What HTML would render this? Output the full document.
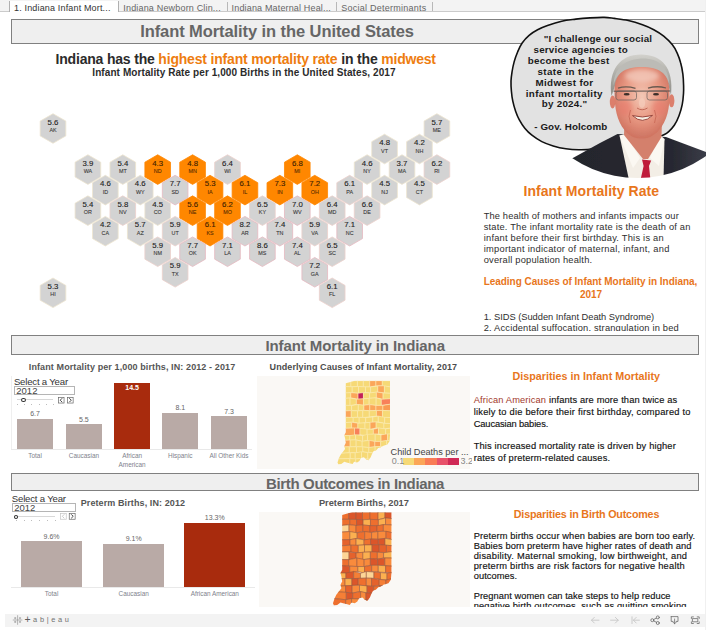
<!DOCTYPE html>
<html lang="en"><head><meta charset="utf-8"><title>Infant Mortality in the United States</title>
<style>
html,body{margin:0;padding:0;background:#fff;}
body{width:706px;height:630px;position:relative;overflow:hidden;font-family:"Liberation Sans",sans-serif;}
.t{position:absolute;white-space:pre;margin:0;}
.a{position:absolute;}
.hd{position:absolute;left:11px;width:688px;box-sizing:border-box;border:1px solid #808080;background:#efefef;}
.clip{position:absolute;overflow:hidden;}
</style></head><body>
<div class="a" style="left:0;top:0;width:705px;height:11px;background:#f3f3f3;border-bottom:1px solid #cbcbcb;"></div>
<div class="a" style="left:8.5px;top:1px;width:110px;height:11px;background:#fff;border-left:1px solid #b0b0b0;border-right:1px solid #b0b0b0;box-sizing:border-box;"></div>
<div class="a" style="left:227.0px;top:2px;width:1px;height:9px;background:#b8b8b8;"></div>
<div class="a" style="left:336.1px;top:2px;width:1px;height:9px;background:#b8b8b8;"></div>
<div class="a" style="left:431.5px;top:2px;width:1px;height:9px;background:#b8b8b8;"></div>
<div class="a" style="left:705px;top:0;width:1px;height:630px;background:#f0f0f0;"></div>
<div class="hd" style="top:19px;height:24.5px;"></div>
<div class="hd" style="top:335px;height:19.5px;"></div>
<div class="hd" style="top:473px;height:18px;"></div>
<svg class="a" style="left:0;top:100px" width="480" height="230" viewBox="0 100 480 230">
<polygon points="53.00,113.70 65.82,121.10 65.82,135.90 53.00,143.30 40.18,135.90 40.18,121.10" fill="#d3d3d3" stroke="#eee4cf" stroke-width="0.8"/>
<polygon points="436.90,113.70 449.72,121.10 449.72,135.90 436.90,143.30 424.08,135.90 424.08,121.10" fill="#d3d3d3" stroke="#eee4cf" stroke-width="0.8"/>
<polygon points="384.55,134.24 397.37,141.64 397.37,156.44 384.55,163.84 371.73,156.44 371.73,141.64" fill="#d3d3d3" stroke="#eee4cf" stroke-width="0.8"/>
<polygon points="419.45,134.24 432.27,141.64 432.27,156.44 419.45,163.84 406.63,156.44 406.63,141.64" fill="#d3d3d3" stroke="#eee4cf" stroke-width="0.8"/>
<polygon points="87.90,154.78 100.72,162.18 100.72,176.98 87.90,184.38 75.08,176.98 75.08,162.18" fill="#d3d3d3" stroke="#eee4cf" stroke-width="0.8"/>
<polygon points="122.80,154.78 135.62,162.18 135.62,176.98 122.80,184.38 109.98,176.98 109.98,162.18" fill="#d3d3d3" stroke="#eee4cf" stroke-width="0.8"/>
<polygon points="157.70,154.78 170.52,162.18 170.52,176.98 157.70,184.38 144.88,176.98 144.88,162.18" fill="#ff8700" stroke="#ff8700" stroke-width="0.8"/>
<polygon points="192.60,154.78 205.42,162.18 205.42,176.98 192.60,184.38 179.78,176.98 179.78,162.18" fill="#ff8700" stroke="#ff8700" stroke-width="0.8"/>
<polygon points="227.50,154.78 240.32,162.18 240.32,176.98 227.50,184.38 214.68,176.98 214.68,162.18" fill="#d3d3d3" stroke="#ecd0cc" stroke-width="0.8"/>
<polygon points="297.30,154.78 310.12,162.18 310.12,176.98 297.30,184.38 284.48,176.98 284.48,162.18" fill="#ff8700" stroke="#ff8700" stroke-width="0.8"/>
<polygon points="367.10,154.78 379.92,162.18 379.92,176.98 367.10,184.38 354.28,176.98 354.28,162.18" fill="#d3d3d3" stroke="#eee4cf" stroke-width="0.8"/>
<polygon points="402.00,154.78 414.82,162.18 414.82,176.98 402.00,184.38 389.18,176.98 389.18,162.18" fill="#d3d3d3" stroke="#eee4cf" stroke-width="0.8"/>
<polygon points="436.90,154.78 449.72,162.18 449.72,176.98 436.90,184.38 424.08,176.98 424.08,162.18" fill="#d3d3d3" stroke="#ecd0cc" stroke-width="0.8"/>
<polygon points="105.35,175.32 118.17,182.72 118.17,197.52 105.35,204.92 92.53,197.52 92.53,182.72" fill="#d3d3d3" stroke="#eee4cf" stroke-width="0.8"/>
<polygon points="140.25,175.32 153.07,182.72 153.07,197.52 140.25,204.92 127.43,197.52 127.43,182.72" fill="#d3d3d3" stroke="#eee4cf" stroke-width="0.8"/>
<polygon points="175.15,175.32 187.97,182.72 187.97,197.52 175.15,204.92 162.33,197.52 162.33,182.72" fill="#d3d3d3" stroke="#e6b9c0" stroke-width="0.8"/>
<polygon points="210.05,175.32 222.87,182.72 222.87,197.52 210.05,204.92 197.23,197.52 197.23,182.72" fill="#ff8700" stroke="#ff8700" stroke-width="0.8"/>
<polygon points="244.95,175.32 257.77,182.72 257.77,197.52 244.95,204.92 232.13,197.52 232.13,182.72" fill="#ff8700" stroke="#ff8700" stroke-width="0.8"/>
<polygon points="279.85,175.32 292.67,182.72 292.67,197.52 279.85,204.92 267.03,197.52 267.03,182.72" fill="#ff8700" stroke="#ff8700" stroke-width="0.8"/>
<polygon points="314.75,175.32 327.57,182.72 327.57,197.52 314.75,204.92 301.93,197.52 301.93,182.72" fill="#ff8700" stroke="#ff8700" stroke-width="0.8"/>
<polygon points="349.65,175.32 362.47,182.72 362.47,197.52 349.65,204.92 336.83,197.52 336.83,182.72" fill="#d3d3d3" stroke="#ecd0cc" stroke-width="0.8"/>
<polygon points="384.55,175.32 397.37,182.72 397.37,197.52 384.55,204.92 371.73,197.52 371.73,182.72" fill="#d3d3d3" stroke="#eee4cf" stroke-width="0.8"/>
<polygon points="419.45,175.32 432.27,182.72 432.27,197.52 419.45,204.92 406.63,197.52 406.63,182.72" fill="#d3d3d3" stroke="#eee4cf" stroke-width="0.8"/>
<polygon points="87.90,195.86 100.72,203.26 100.72,218.06 87.90,225.46 75.08,218.06 75.08,203.26" fill="#d3d3d3" stroke="#eee4cf" stroke-width="0.8"/>
<polygon points="122.80,195.86 135.62,203.26 135.62,218.06 122.80,225.46 109.98,218.06 109.98,203.26" fill="#d3d3d3" stroke="#ecd0cc" stroke-width="0.8"/>
<polygon points="157.70,195.86 170.52,203.26 170.52,218.06 157.70,225.46 144.88,218.06 144.88,203.26" fill="#d3d3d3" stroke="#eee4cf" stroke-width="0.8"/>
<polygon points="192.60,195.86 205.42,203.26 205.42,218.06 192.60,225.46 179.78,218.06 179.78,203.26" fill="#ff8700" stroke="#ff8700" stroke-width="0.8"/>
<polygon points="227.50,195.86 240.32,203.26 240.32,218.06 227.50,225.46 214.68,218.06 214.68,203.26" fill="#ff8700" stroke="#ff8700" stroke-width="0.8"/>
<polygon points="262.40,195.86 275.22,203.26 275.22,218.06 262.40,225.46 249.58,218.06 249.58,203.26" fill="#d3d3d3" stroke="#ecd0cc" stroke-width="0.8"/>
<polygon points="297.30,195.86 310.12,203.26 310.12,218.06 297.30,225.46 284.48,218.06 284.48,203.26" fill="#d3d3d3" stroke="#e6b9c0" stroke-width="0.8"/>
<polygon points="332.20,195.86 345.02,203.26 345.02,218.06 332.20,225.46 319.38,218.06 319.38,203.26" fill="#d3d3d3" stroke="#ecd0cc" stroke-width="0.8"/>
<polygon points="367.10,195.86 379.92,203.26 379.92,218.06 367.10,225.46 354.28,218.06 354.28,203.26" fill="#d3d3d3" stroke="#ecd0cc" stroke-width="0.8"/>
<polygon points="105.35,216.40 118.17,223.80 118.17,238.60 105.35,246.00 92.53,238.60 92.53,223.80" fill="#d3d3d3" stroke="#eee4cf" stroke-width="0.8"/>
<polygon points="140.25,216.40 153.07,223.80 153.07,238.60 140.25,246.00 127.43,238.60 127.43,223.80" fill="#d3d3d3" stroke="#eee4cf" stroke-width="0.8"/>
<polygon points="175.15,216.40 187.97,223.80 187.97,238.60 175.15,246.00 162.33,238.60 162.33,223.80" fill="#d3d3d3" stroke="#ecd0cc" stroke-width="0.8"/>
<polygon points="210.05,216.40 222.87,223.80 222.87,238.60 210.05,246.00 197.23,238.60 197.23,223.80" fill="#ff8700" stroke="#ff8700" stroke-width="0.8"/>
<polygon points="244.95,216.40 257.77,223.80 257.77,238.60 244.95,246.00 232.13,238.60 232.13,223.80" fill="#d3d3d3" stroke="#e6b9c0" stroke-width="0.8"/>
<polygon points="279.85,216.40 292.67,223.80 292.67,238.60 279.85,246.00 267.03,238.60 267.03,223.80" fill="#d3d3d3" stroke="#e6b9c0" stroke-width="0.8"/>
<polygon points="314.75,216.40 327.57,223.80 327.57,238.60 314.75,246.00 301.93,238.60 301.93,223.80" fill="#d3d3d3" stroke="#ecd0cc" stroke-width="0.8"/>
<polygon points="349.65,216.40 362.47,223.80 362.47,238.60 349.65,246.00 336.83,238.60 336.83,223.80" fill="#d3d3d3" stroke="#e6b9c0" stroke-width="0.8"/>
<polygon points="157.70,236.94 170.52,244.34 170.52,259.14 157.70,266.54 144.88,259.14 144.88,244.34" fill="#d3d3d3" stroke="#ecd0cc" stroke-width="0.8"/>
<polygon points="192.60,236.94 205.42,244.34 205.42,259.14 192.60,266.54 179.78,259.14 179.78,244.34" fill="#d3d3d3" stroke="#e6b9c0" stroke-width="0.8"/>
<polygon points="227.50,236.94 240.32,244.34 240.32,259.14 227.50,266.54 214.68,259.14 214.68,244.34" fill="#d3d3d3" stroke="#e6b9c0" stroke-width="0.8"/>
<polygon points="262.40,236.94 275.22,244.34 275.22,259.14 262.40,266.54 249.58,259.14 249.58,244.34" fill="#d3d3d3" stroke="#e6b9c0" stroke-width="0.8"/>
<polygon points="297.30,236.94 310.12,244.34 310.12,259.14 297.30,266.54 284.48,259.14 284.48,244.34" fill="#d3d3d3" stroke="#e6b9c0" stroke-width="0.8"/>
<polygon points="332.20,236.94 345.02,244.34 345.02,259.14 332.20,266.54 319.38,259.14 319.38,244.34" fill="#d3d3d3" stroke="#ecd0cc" stroke-width="0.8"/>
<polygon points="175.15,257.48 187.97,264.88 187.97,279.68 175.15,287.08 162.33,279.68 162.33,264.88" fill="#d3d3d3" stroke="#ecd0cc" stroke-width="0.8"/>
<polygon points="314.75,257.48 327.57,264.88 327.57,279.68 314.75,287.08 301.93,279.68 301.93,264.88" fill="#d3d3d3" stroke="#e6b9c0" stroke-width="0.8"/>
<polygon points="53.00,278.02 65.82,285.42 65.82,300.22 53.00,307.62 40.18,300.22 40.18,285.42" fill="#d3d3d3" stroke="#eee4cf" stroke-width="0.8"/>
<polygon points="332.20,278.02 345.02,285.42 345.02,300.22 332.20,307.62 319.38,300.22 319.38,285.42" fill="#d3d3d3" stroke="#ecd0cc" stroke-width="0.8"/>
</svg>
<div class="a" style="left:470px;top:330.6px;width:234px;height:4.4px;background:#fff;z-index:5;"></div>
<div class="a" style="left:11px;top:449px;width:241px;height:1px;background:#e9e9e9;"></div>
<div class="a" style="left:11px;top:376px;width:1px;height:73px;background:#efefef;"></div>
<div class="a" style="left:17.1px;top:418.8px;width:36px;height:30.0px;background:#b9aaa6;"></div>
<div class="a" style="left:65.9px;top:424.3px;width:36px;height:24.5px;background:#b9aaa6;"></div>
<div class="a" style="left:114.1px;top:383px;width:36px;height:65.8px;background:#a82b0d;"></div>
<div class="a" style="left:162.3px;top:412.6px;width:36px;height:36.2px;background:#b9aaa6;"></div>
<div class="a" style="left:211px;top:416.2px;width:36px;height:32.6px;background:#b9aaa6;"></div>
<div class="a" style="left:14.3px;top:386px;width:60.4px;height:9px;border:1px solid #b5b5b5;box-sizing:border-box;background:#fff;"></div>
<div class="a" style="left:17.1px;top:399.20000000000005px;width:35.8px;height:1px;background:#d8d8d8;"></div>
<div class="a" style="left:21.2px;top:397.70000000000005px;width:4.4px;height:4px;border:0.9px solid #333;border-radius:50%;box-sizing:border-box;background:#fff;"></div>
<div class="a" style="left:17.1px;top:403.50000000000006px;width:0.8px;height:1px;background:#bdbdbd;"></div>
<div class="a" style="left:24.3px;top:403.50000000000006px;width:0.8px;height:1px;background:#bdbdbd;"></div>
<div class="a" style="left:31.4px;top:403.50000000000006px;width:0.8px;height:1px;background:#bdbdbd;"></div>
<div class="a" style="left:38.6px;top:403.50000000000006px;width:0.8px;height:1px;background:#bdbdbd;"></div>
<div class="a" style="left:45.7px;top:403.50000000000006px;width:0.8px;height:1px;background:#bdbdbd;"></div>
<div class="a" style="left:52.9px;top:403.50000000000006px;width:0.8px;height:1px;background:#bdbdbd;"></div>
<svg class="a" style="left:57.2px;top:395.50000000000006px" width="17.499999999999993" height="8.4" viewBox="-1 -1 17.499999999999993 8.4"><rect x="0.35" y="0.35" width="5.7" height="5.7" fill="#fff" stroke="#666" stroke-width="0.7"/><path d="M4.2 1.2000000000000002 L2.2 3.2 L4.2 5.2" fill="none" stroke="#333" stroke-width="0.9"/><g transform="translate(9.099999999999994 0)"><rect x="0.35" y="0.35" width="5.7" height="5.7" fill="#fff" stroke="#666" stroke-width="0.7"/><path d="M2.2 1.2000000000000002 L4.2 3.2 L2.2 5.2" fill="none" stroke="#333" stroke-width="0.9"/></g></svg>
<div class="a" style="left:11px;top:587px;width:244px;height:1px;background:#e9e9e9;"></div>
<div class="a" style="left:21px;top:541.4px;width:61.2px;height:45.7px;background:#b9aaa6;"></div>
<div class="a" style="left:103.1px;top:544px;width:61.2px;height:43.1px;background:#b9aaa6;"></div>
<div class="a" style="left:184.2px;top:523px;width:61.2px;height:64.1px;background:#a82b0d;"></div>
<div class="a" style="left:12.2px;top:503px;width:64.3px;height:9px;border:1px solid #b5b5b5;box-sizing:border-box;background:#fff;"></div>
<div class="a" style="left:15.7px;top:516.1px;width:39.2px;height:1px;background:#d8d8d8;"></div>
<div class="a" style="left:13.5px;top:514.6px;width:4.4px;height:4px;border:0.9px solid #333;border-radius:50%;box-sizing:border-box;background:#fff;"></div>
<div class="a" style="left:15.7px;top:520.4px;width:0.8px;height:1px;background:#bdbdbd;"></div>
<div class="a" style="left:23.5px;top:520.4px;width:0.8px;height:1px;background:#bdbdbd;"></div>
<div class="a" style="left:31.4px;top:520.4px;width:0.8px;height:1px;background:#bdbdbd;"></div>
<div class="a" style="left:39.2px;top:520.4px;width:0.8px;height:1px;background:#bdbdbd;"></div>
<div class="a" style="left:47.1px;top:520.4px;width:0.8px;height:1px;background:#bdbdbd;"></div>
<div class="a" style="left:54.9px;top:520.4px;width:0.8px;height:1px;background:#bdbdbd;"></div>
<svg class="a" style="left:59.4px;top:512.3000000000001px" width="17.5" height="8.6" viewBox="-1 -1 17.5 8.6"><rect x="0.35" y="0.35" width="5.8999999999999995" height="5.8999999999999995" fill="#fff" stroke="#c4c4c4" stroke-width="0.7"/><path d="M4.3 1.2999999999999998 L2.3 3.3 L4.3 5.3" fill="none" stroke="#c4c4c4" stroke-width="0.9"/><g transform="translate(8.899999999999999 0)"><rect x="0.35" y="0.35" width="5.8999999999999995" height="5.8999999999999995" fill="#fff" stroke="#666" stroke-width="0.7"/><path d="M2.3 1.2999999999999998 L4.3 3.3 L2.3 5.3" fill="none" stroke="#333" stroke-width="0.9"/></g></svg>
<div class="a" style="left:470px;top:606.7px;width:234px;height:8px;background:#fff;z-index:5;"></div>
<div class="a" style="left:5px;top:613.8px;width:700px;height:13px;background:#f3f3f3;z-index:6;"></div>
<div class="a" style="left:257.3px;top:376px;width:212.3px;height:92.6px;background:#faf8f5;"></div>
<svg class="a" style="left:330px;top:376px" width="70" height="92" viewBox="330 376 70 92">
<defs><clipPath id="cp1"><polygon points="345.80,383.26 349.57,382.20 354.85,380.70 390.00,380.70 390.00,435.30 389.50,441.30 387.30,444.40 382.80,445.90 380.50,447.40 378.20,448.10 376.00,450.40 373.70,451.10 372.20,453.40 370.70,457.20 368.40,460.20 366.20,459.40 363.90,457.20 360.90,457.90 359.40,460.90 357.10,462.40 354.10,461.70 352.60,464.00 349.60,463.20 346.55,462.40 344.30,461.70 341.30,464.00 338.30,464.30 337.50,462.40 339.00,457.90 340.50,454.90 342.80,451.90 345.05,448.90 344.30,445.90 345.80,442.80 345.05,438.30 344.30,435.30 345.80,432.30"/></clipPath></defs>
<g clip-path="url(#cp1)" stroke="#fbedb4" stroke-width="0.55" stroke-linejoin="round">
<polygon points="335.80,380.70 350.94,380.70 350.94,386.78 335.80,386.23" fill="#f6d976"/>
<polygon points="350.94,380.70 357.45,380.70 357.45,386.47 350.94,386.78" fill="#f6d976"/>
<polygon points="357.45,380.70 363.32,380.70 363.32,386.89 357.45,386.47" fill="#f6d976"/>
<polygon points="363.32,380.70 369.69,380.70 369.69,386.93 363.32,386.89" fill="#f6d976"/>
<polygon points="369.69,380.70 375.91,380.70 375.91,385.92 369.69,386.93" fill="#fba65a"/>
<polygon points="375.91,380.70 382.30,380.70 382.30,385.82 375.91,385.92" fill="#fba65a"/>
<polygon points="382.30,380.70 391.80,380.70 391.80,387.31 382.30,385.82" fill="#f6d976"/>
<polygon points="335.80,386.23 352.20,386.78 352.20,392.65 335.80,393.59" fill="#f6d976"/>
<polygon points="352.20,386.78 358.62,386.47 358.62,393.31 352.20,392.65" fill="#f6d976"/>
<polygon points="358.62,386.47 365.56,386.89 365.56,392.66 358.62,393.31" fill="#f6d976"/>
<polygon points="365.56,386.89 370.66,386.93 370.66,392.95 365.56,392.66" fill="#f6d976"/>
<polygon points="370.66,386.93 377.83,385.92 377.83,392.07 370.66,392.95" fill="#f6d976"/>
<polygon points="377.83,385.92 384.40,385.82 384.40,392.94 377.83,392.07" fill="#fba65a"/>
<polygon points="384.40,385.82 391.80,387.31 391.80,393.36 384.40,392.94" fill="#f6d976"/>
<polygon points="335.80,393.59 350.82,392.65 350.82,397.92 335.80,399.01" fill="#f6d976"/>
<polygon points="350.82,392.65 358.05,393.31 358.05,399.16 350.82,397.92" fill="#fba65a"/>
<polygon points="358.05,393.31 363.45,392.66 363.45,398.86 358.05,399.16" fill="#c41f58"/>
<polygon points="363.45,392.66 369.66,392.95 369.66,398.34 363.45,398.86" fill="#f6d976"/>
<polygon points="369.66,392.95 376.36,392.07 376.36,397.86 369.66,398.34" fill="#f6d976"/>
<polygon points="376.36,392.07 383.08,392.94 383.08,399.36 376.36,397.86" fill="#fba65a"/>
<polygon points="383.08,392.94 391.80,393.36 391.80,398.65 383.08,399.36" fill="#f6d976"/>
<polygon points="335.80,399.01 350.06,397.92 350.06,405.46 335.80,405.09" fill="#f6d976"/>
<polygon points="350.06,397.92 356.38,399.16 356.38,404.51 350.06,405.46" fill="#f6d976"/>
<polygon points="356.38,399.16 363.48,398.86 363.48,405.24 356.38,404.51" fill="#fba65a"/>
<polygon points="363.48,398.86 369.15,398.34 369.15,404.60 363.48,405.24" fill="#f6d976"/>
<polygon points="369.15,398.34 376.12,397.86 376.12,405.48 369.15,404.60" fill="#f6d976"/>
<polygon points="376.12,397.86 381.32,399.36 381.32,405.38 376.12,405.48" fill="#f6d976"/>
<polygon points="381.32,399.36 391.80,398.65 391.80,403.98 381.32,405.38" fill="#f8805a"/>
<polygon points="335.80,405.09 351.62,405.46 351.62,410.59 335.80,411.54" fill="#f6d976"/>
<polygon points="351.62,405.46 358.30,404.51 358.30,410.93 351.62,410.59" fill="#f6d976"/>
<polygon points="358.30,404.51 363.90,405.24 363.90,410.34 358.30,410.93" fill="#f6d976"/>
<polygon points="363.90,405.24 369.84,404.60 369.84,410.71 363.90,410.34" fill="#fba65a"/>
<polygon points="369.84,404.60 375.97,405.48 375.97,410.49 369.84,410.71" fill="#fba65a"/>
<polygon points="375.97,405.48 382.93,405.38 382.93,410.43 375.97,410.49" fill="#fba65a"/>
<polygon points="382.93,405.38 391.80,403.98 391.80,410.85 382.93,410.43" fill="#f99a52"/>
<polygon points="335.80,411.54 351.23,410.59 351.23,417.47 335.80,417.03" fill="#fba65a"/>
<polygon points="351.23,410.59 357.58,410.93 357.58,417.34 351.23,417.47" fill="#f6d976"/>
<polygon points="357.58,410.93 362.83,410.34 362.83,417.58 357.58,417.34" fill="#f6d976"/>
<polygon points="362.83,410.34 369.29,410.71 369.29,417.01 362.83,417.58" fill="#f6d976"/>
<polygon points="369.29,410.71 376.43,410.49 376.43,416.09 369.29,417.01" fill="#f6d976"/>
<polygon points="376.43,410.49 382.47,410.43 382.47,417.35 376.43,416.09" fill="#fba65a"/>
<polygon points="382.47,410.43 391.80,410.85 391.80,417.54 382.47,417.35" fill="#f6d976"/>
<polygon points="335.80,417.03 353.20,417.47 353.20,422.18 335.80,423.08" fill="#f6d976"/>
<polygon points="353.20,417.47 359.16,417.34 359.16,423.30 353.20,422.18" fill="#f6d976"/>
<polygon points="359.16,417.34 365.71,417.58 365.71,422.83 359.16,423.30" fill="#f6d976"/>
<polygon points="365.71,417.58 372.82,417.01 372.82,422.31 365.71,422.83" fill="#f6d976"/>
<polygon points="372.82,417.01 378.28,416.09 378.28,421.91 372.82,422.31" fill="#f6d976"/>
<polygon points="378.28,416.09 384.70,417.35 384.70,423.34 378.28,421.91" fill="#f6d976"/>
<polygon points="384.70,417.35 391.80,417.54 391.80,423.58 384.70,423.34" fill="#f6d976"/>
<polygon points="335.80,423.08 351.61,422.18 351.61,428.07 335.80,428.54" fill="#f6d976"/>
<polygon points="351.61,422.18 357.89,423.30 357.89,428.33 351.61,428.07" fill="#fba65a"/>
<polygon points="357.89,423.30 365.01,422.83 365.01,429.18 357.89,428.33" fill="#f6d976"/>
<polygon points="365.01,422.83 370.08,422.31 370.08,429.37 365.01,429.18" fill="#f6d976"/>
<polygon points="370.08,422.31 376.14,421.91 376.14,427.88 370.08,429.37" fill="#fba65a"/>
<polygon points="376.14,421.91 383.94,423.34 383.94,428.91 376.14,427.88" fill="#f6d976"/>
<polygon points="383.94,423.34 391.80,423.58 391.80,427.88 383.94,428.91" fill="#f6d976"/>
<polygon points="335.80,428.54 354.55,428.07 354.55,435.57 335.80,435.39" fill="#fba65a"/>
<polygon points="354.55,428.07 359.97,428.33 359.97,434.71 354.55,435.57" fill="#f8805a"/>
<polygon points="359.97,428.33 367.09,429.18 367.09,435.60 359.97,434.71" fill="#f6d976"/>
<polygon points="367.09,429.18 373.36,429.37 373.36,434.36 367.09,435.60" fill="#f6d976"/>
<polygon points="373.36,429.37 378.53,427.88 378.53,433.94 373.36,434.36" fill="#fba65a"/>
<polygon points="378.53,427.88 385.66,428.91 385.66,434.88 378.53,433.94" fill="#f6d976"/>
<polygon points="385.66,428.91 391.80,427.88 391.80,433.86 385.66,434.88" fill="#f6d976"/>
<polygon points="335.80,435.39 349.88,435.57 349.88,440.08 335.80,440.90" fill="#f6d976"/>
<polygon points="349.88,435.57 355.60,434.71 355.60,439.88 349.88,440.08" fill="#f6d976"/>
<polygon points="355.60,434.71 362.64,435.60 362.64,441.36 355.60,439.88" fill="#f6d976"/>
<polygon points="362.64,435.60 367.61,434.36 367.61,440.36 362.64,441.36" fill="#f6d976"/>
<polygon points="367.61,434.36 375.19,433.94 375.19,441.53 367.61,440.36" fill="#f6d976"/>
<polygon points="375.19,433.94 381.05,434.88 381.05,441.41 375.19,441.53" fill="#f6d976"/>
<polygon points="381.05,434.88 387.62,433.86 387.62,440.48 381.05,441.41" fill="#fba65a"/>
<polygon points="387.62,433.86 391.80,434.16 391.80,440.63 387.62,440.48" fill="#f6d976"/>
<polygon points="335.80,440.90 350.13,440.08 350.13,446.87 335.80,446.96" fill="#fba65a"/>
<polygon points="350.13,440.08 356.11,439.88 356.11,446.81 350.13,446.87" fill="#f6d976"/>
<polygon points="356.11,439.88 362.13,441.36 362.13,446.92 356.11,446.81" fill="#f6d976"/>
<polygon points="362.13,441.36 369.17,440.36 369.17,447.49 362.13,446.92" fill="#f6d976"/>
<polygon points="369.17,440.36 374.85,441.53 374.85,446.71 369.17,447.49" fill="#fba65a"/>
<polygon points="374.85,441.53 380.62,441.41 380.62,446.58 374.85,446.71" fill="#fba65a"/>
<polygon points="380.62,441.41 386.68,440.48 386.68,447.10 380.62,446.58" fill="#f6d976"/>
<polygon points="386.68,440.48 391.80,440.63 391.80,446.23 386.68,447.10" fill="#f6d976"/>
<polygon points="335.80,446.96 349.27,446.87 349.27,452.74 335.80,453.56" fill="#f6d976"/>
<polygon points="349.27,446.87 356.46,446.81 356.46,452.79 349.27,452.74" fill="#f6d976"/>
<polygon points="356.46,446.81 362.87,446.92 362.87,451.82 356.46,452.79" fill="#f6d976"/>
<polygon points="362.87,446.92 368.89,447.49 368.89,452.55 362.87,451.82" fill="#f6d976"/>
<polygon points="368.89,447.49 375.11,446.71 375.11,452.84 368.89,452.55" fill="#f6d976"/>
<polygon points="375.11,446.71 380.01,446.58 380.01,451.84 375.11,452.84" fill="#f6d976"/>
<polygon points="380.01,446.58 387.20,447.10 387.20,452.91 380.01,451.84" fill="#f6d976"/>
<polygon points="387.20,447.10 391.80,446.23 391.80,452.94 387.20,452.91" fill="#f6d976"/>
<polygon points="335.80,453.56 350.24,452.74 350.24,458.64 335.80,458.93" fill="#f6d976"/>
<polygon points="350.24,452.74 355.20,452.79 355.20,459.02 350.24,458.64" fill="#f6d976"/>
<polygon points="355.20,452.79 361.49,451.82 361.49,458.43 355.20,459.02" fill="#f6d976"/>
<polygon points="361.49,451.82 367.80,452.55 367.80,459.07 361.49,458.43" fill="#f6d976"/>
<polygon points="367.80,452.55 374.00,452.84 374.00,459.13 367.80,459.07" fill="#f6d976"/>
<polygon points="374.00,452.84 380.11,451.84 380.11,457.84 374.00,459.13" fill="#f6d976"/>
<polygon points="380.11,451.84 387.76,452.91 387.76,457.91 380.11,457.84" fill="#f6d976"/>
<polygon points="387.76,452.91 391.80,452.94 391.80,459.02 387.76,457.91" fill="#f6d976"/>
<polygon points="335.80,458.93 349.92,458.64 349.92,464.70 335.80,464.70" fill="#f6d976"/>
<polygon points="349.92,458.64 355.76,459.02 355.76,464.70 349.92,464.70" fill="#f6d976"/>
<polygon points="355.76,459.02 361.69,458.43 361.69,464.70 355.76,464.70" fill="#f6d976"/>
<polygon points="361.69,458.43 368.11,459.07 368.11,464.70 361.69,464.70" fill="#f6d976"/>
<polygon points="368.11,459.07 373.98,459.13 373.98,464.70 368.11,464.70" fill="#f6d976"/>
<polygon points="373.98,459.13 380.87,457.84 380.87,464.70 373.98,464.70" fill="#f6d976"/>
<polygon points="380.87,457.84 387.33,457.91 387.33,464.70 380.87,464.70" fill="#f6d976"/>
<polygon points="387.33,457.91 391.80,459.02 391.80,464.70 387.33,464.70" fill="#f6d976"/>
</g></svg>
<div class="a" style="left:403.10px;top:457.8px;width:11.3px;height:7.2px;background:#f6d976;"></div>
<div class="a" style="left:414.28px;top:457.8px;width:11.3px;height:7.2px;background:#fba657;"></div>
<div class="a" style="left:425.46px;top:457.8px;width:11.3px;height:7.2px;background:#f97c56;"></div>
<div class="a" style="left:436.64px;top:457.8px;width:11.3px;height:7.2px;background:#e8526a;"></div>
<div class="a" style="left:447.82px;top:457.8px;width:11.3px;height:7.2px;background:#d02a56;"></div>
<div class="a" style="left:259px;top:511.8px;width:210.8px;height:94.8px;background:#faf8f5;"></div>
<svg class="a" style="left:326px;top:511.8px" width="70" height="94.8" viewBox="326 511.8 70 94.8">
<defs><clipPath id="cp2"><polygon points="342.20,514.85 346.40,513.67 352.28,512.00 391.42,512.00 391.42,572.80 390.86,579.48 388.41,582.94 383.40,584.61 380.84,586.28 378.28,587.06 375.83,589.62 373.27,590.40 371.60,592.96 369.93,597.19 367.37,600.53 364.92,599.64 362.36,597.19 359.02,597.97 357.34,601.31 354.78,602.98 351.44,602.20 349.77,604.76 346.43,603.87 343.04,602.98 340.53,602.20 337.19,604.76 333.85,605.10 332.96,602.98 334.63,597.97 336.30,594.63 338.86,591.29 341.36,587.95 340.53,584.61 342.20,581.15 341.36,576.14 340.53,572.80 342.20,569.46"/></clipPath></defs>
<g clip-path="url(#cp2)" stroke="#9c5a40" stroke-width="0.6" stroke-linejoin="round">
<polygon points="331.06,512.00 348.74,512.00 348.74,519.17 331.06,518.93" fill="#ee6f2e"/>
<polygon points="348.74,512.00 355.96,512.00 355.96,519.27 348.74,519.17" fill="#db562a"/>
<polygon points="355.96,512.00 362.51,512.00 362.51,519.57 355.96,519.27" fill="#db562a"/>
<polygon points="362.51,512.00 369.94,512.00 369.94,519.16 362.51,519.57" fill="#ee6f2e"/>
<polygon points="369.94,512.00 378.05,512.00 378.05,519.53 369.94,519.16" fill="#ee6f2e"/>
<polygon points="378.05,512.00 385.01,512.00 385.01,517.74 378.05,519.53" fill="#fbb050"/>
<polygon points="385.01,512.00 393.43,512.00 393.43,518.61 385.01,517.74" fill="#db562a"/>
<polygon points="331.06,518.93 349.84,519.17 349.84,524.59 331.06,526.17" fill="#ee6f2e"/>
<polygon points="349.84,519.17 356.57,519.27 356.57,525.30 349.84,524.59" fill="#ee6f2e"/>
<polygon points="356.57,519.27 363.14,519.57 363.14,524.86 356.57,525.30" fill="#db562a"/>
<polygon points="363.14,519.57 370.48,519.16 370.48,525.45 363.14,524.86" fill="#fbb050"/>
<polygon points="370.48,519.16 378.40,519.53 378.40,525.51 370.48,525.45" fill="#ee6f2e"/>
<polygon points="378.40,519.53 385.57,517.74 385.57,524.39 378.40,525.51" fill="#fbb050"/>
<polygon points="385.57,517.74 393.43,518.61 393.43,524.80 385.57,524.39" fill="#f98b3c"/>
<polygon points="331.06,526.17 349.05,524.59 349.05,531.36 331.06,532.58" fill="#fdd596"/>
<polygon points="349.05,524.59 356.04,525.30 356.04,532.64 349.05,531.36" fill="#f98b3c"/>
<polygon points="356.04,525.30 362.91,524.86 362.91,531.32 356.04,532.64" fill="#ee6f2e"/>
<polygon points="362.91,524.86 369.88,525.45 369.88,532.28 362.91,531.32" fill="#ee6f2e"/>
<polygon points="369.88,525.45 377.06,525.51 377.06,531.30 369.88,532.28" fill="#e5622c"/>
<polygon points="377.06,525.51 383.37,524.39 383.37,531.05 377.06,531.30" fill="#ee6f2e"/>
<polygon points="383.37,524.39 393.43,524.80 393.43,532.79 383.37,531.05" fill="#f98b3c"/>
<polygon points="331.06,532.58 349.83,531.36 349.83,539.47 331.06,539.69" fill="#f98b3c"/>
<polygon points="349.83,531.36 357.21,532.64 357.21,538.30 349.83,539.47" fill="#fbb050"/>
<polygon points="357.21,532.64 364.73,531.32 364.73,539.65 357.21,538.30" fill="#ee6f2e"/>
<polygon points="364.73,531.32 371.60,532.28 371.60,538.81 364.73,539.65" fill="#f57f36"/>
<polygon points="371.60,532.28 377.91,531.30 377.91,539.08 371.60,538.81" fill="#f98b3c"/>
<polygon points="377.91,531.30 386.09,531.05 386.09,538.13 377.91,539.08" fill="#f98b3c"/>
<polygon points="386.09,531.05 393.43,532.79 393.43,539.61 386.09,538.13" fill="#ee6f2e"/>
<polygon points="331.06,539.69 350.09,539.47 350.09,545.00 331.06,546.20" fill="#e5622c"/>
<polygon points="350.09,539.47 356.09,538.30 356.09,545.13 350.09,545.00" fill="#f98b3c"/>
<polygon points="356.09,538.30 364.06,539.65 364.06,544.74 356.09,545.13" fill="#fbb050"/>
<polygon points="364.06,539.65 370.55,538.81 370.55,544.70 364.06,544.74" fill="#ee6f2e"/>
<polygon points="370.55,538.81 378.32,539.08 378.32,544.54 370.55,544.70" fill="#db562a"/>
<polygon points="378.32,539.08 384.96,538.13 384.96,545.01 378.32,544.54" fill="#db562a"/>
<polygon points="384.96,538.13 393.43,539.61 393.43,545.61 384.96,545.01" fill="#fbb050"/>
<polygon points="331.06,546.20 351.03,545.00 351.03,551.71 331.06,551.76" fill="#f57f36"/>
<polygon points="351.03,545.00 358.31,545.13 358.31,552.73 351.03,551.71" fill="#ee6f2e"/>
<polygon points="358.31,545.13 364.53,544.74 364.53,552.05 358.31,552.73" fill="#fbb050"/>
<polygon points="364.53,544.74 372.07,544.70 372.07,551.72 364.53,552.05" fill="#fbb050"/>
<polygon points="372.07,544.70 379.25,544.54 379.25,552.05 372.07,551.72" fill="#db562a"/>
<polygon points="379.25,544.54 386.43,545.01 386.43,552.50 379.25,552.05" fill="#e5622c"/>
<polygon points="386.43,545.01 393.43,545.61 393.43,551.20 386.43,552.50" fill="#ee6f2e"/>
<polygon points="331.06,551.76 349.09,551.71 349.09,559.46 331.06,559.27" fill="#fdd596"/>
<polygon points="349.09,551.71 356.16,552.73 356.16,557.81 349.09,559.46" fill="#e5622c"/>
<polygon points="356.16,552.73 362.85,552.05 362.85,559.35 356.16,557.81" fill="#f98b3c"/>
<polygon points="362.85,552.05 370.38,551.72 370.38,558.50 362.85,559.35" fill="#fbb050"/>
<polygon points="370.38,551.72 377.36,552.05 377.36,558.93 370.38,558.50" fill="#ee6f2e"/>
<polygon points="377.36,552.05 383.59,552.50 383.59,557.79 377.36,558.93" fill="#f98b3c"/>
<polygon points="383.59,552.50 393.43,551.20 393.43,557.86 383.59,557.79" fill="#fbb050"/>
<polygon points="331.06,559.27 348.76,559.46 348.76,565.97 331.06,564.84" fill="#ee6f2e"/>
<polygon points="348.76,559.46 356.97,557.81 356.97,566.31 348.76,565.97" fill="#f98b3c"/>
<polygon points="356.97,557.81 364.17,559.35 364.17,566.34 356.97,566.31" fill="#f98b3c"/>
<polygon points="364.17,559.35 370.37,558.50 370.37,565.14 364.17,566.34" fill="#f98b3c"/>
<polygon points="370.37,558.50 377.76,558.93 377.76,565.16 370.37,565.14" fill="#db562a"/>
<polygon points="377.76,558.93 384.83,557.79 384.83,565.50 377.76,565.16" fill="#db562a"/>
<polygon points="384.83,557.79 393.43,557.86 393.43,566.01 384.83,565.50" fill="#f98b3c"/>
<polygon points="331.06,564.84 349.76,565.97 349.76,572.86 331.06,572.73" fill="#db562a"/>
<polygon points="349.76,565.97 357.86,566.31 357.86,571.21 349.76,572.86" fill="#f98b3c"/>
<polygon points="357.86,566.31 364.52,566.34 364.52,573.03 357.86,571.21" fill="#fbb050"/>
<polygon points="364.52,566.34 371.69,565.14 371.69,571.31 364.52,573.03" fill="#ee6f2e"/>
<polygon points="371.69,565.14 378.27,565.16 378.27,571.82 371.69,571.31" fill="#f98b3c"/>
<polygon points="378.27,565.16 385.64,565.50 385.64,572.36 378.27,571.82" fill="#fbb050"/>
<polygon points="385.64,565.50 393.43,566.01 393.43,572.97 385.64,572.36" fill="#ee6f2e"/>
<polygon points="331.06,572.73 345.94,572.86 345.94,578.44 331.06,578.91" fill="#fbb050"/>
<polygon points="345.94,572.86 353.67,571.21 353.67,578.45 345.94,578.44" fill="#db562a"/>
<polygon points="353.67,571.21 360.48,573.03 360.48,578.17 353.67,578.45" fill="#f57f36"/>
<polygon points="360.48,573.03 366.33,571.31 366.33,577.97 360.48,578.17" fill="#fdd596"/>
<polygon points="366.33,571.31 374.00,571.82 374.00,578.11 366.33,577.97" fill="#fdd596"/>
<polygon points="374.00,571.82 380.47,572.36 380.47,579.20 374.00,578.11" fill="#ee6f2e"/>
<polygon points="380.47,572.36 387.07,572.97 387.07,579.81 380.47,579.20" fill="#fbb050"/>
<polygon points="387.07,572.97 393.43,571.81 393.43,578.14 387.07,579.81" fill="#ee6f2e"/>
<polygon points="331.06,578.91 345.06,578.44 345.06,585.56 331.06,586.47" fill="#f98b3c"/>
<polygon points="345.06,578.44 351.93,578.45 351.93,585.31 345.06,585.56" fill="#fbb050"/>
<polygon points="351.93,578.45 358.21,578.17 358.21,584.97 351.93,585.31" fill="#db562a"/>
<polygon points="358.21,578.17 366.30,577.97 366.30,585.69 358.21,584.97" fill="#ee6f2e"/>
<polygon points="366.30,577.97 371.59,578.11 371.59,586.15 366.30,585.69" fill="#f98b3c"/>
<polygon points="371.59,578.11 379.22,579.20 379.22,585.41 371.59,586.15" fill="#e5622c"/>
<polygon points="379.22,579.20 385.90,579.81 385.90,585.34 379.22,585.41" fill="#f57f36"/>
<polygon points="385.90,579.81 393.43,578.14 393.43,584.61 385.90,585.34" fill="#ee6f2e"/>
<polygon points="331.06,586.47 345.62,585.56 345.62,592.17 331.06,591.24" fill="#f98b3c"/>
<polygon points="345.62,585.56 352.16,585.31 352.16,592.86 345.62,592.17" fill="#e5622c"/>
<polygon points="352.16,585.31 359.50,584.97 359.50,591.44 352.16,592.86" fill="#f98b3c"/>
<polygon points="359.50,584.97 367.07,585.69 367.07,592.64 359.50,591.44" fill="#fbb050"/>
<polygon points="367.07,585.69 373.73,586.15 373.73,593.08 367.07,592.64" fill="#db562a"/>
<polygon points="373.73,586.15 379.92,585.41 379.92,592.44 373.73,593.08" fill="#ee6f2e"/>
<polygon points="379.92,585.41 387.53,585.34 387.53,592.76 379.92,592.44" fill="#e5622c"/>
<polygon points="387.53,585.34 393.43,584.61 393.43,591.39 387.53,592.76" fill="#f57f36"/>
<polygon points="331.06,591.24 346.31,592.17 346.31,599.55 331.06,598.16" fill="#f57f36"/>
<polygon points="346.31,592.17 352.75,592.86 352.75,598.45 346.31,599.55" fill="#db562a"/>
<polygon points="352.75,592.86 360.62,591.44 360.62,598.77 352.75,598.45" fill="#ee6f2e"/>
<polygon points="360.62,591.44 365.94,592.64 365.94,599.86 360.62,598.77" fill="#f98b3c"/>
<polygon points="365.94,592.64 373.03,593.08 373.03,599.57 365.94,599.86" fill="#db562a"/>
<polygon points="373.03,593.08 380.75,592.44 380.75,599.81 373.03,599.57" fill="#f57f36"/>
<polygon points="380.75,592.44 387.74,592.76 387.74,598.77 380.75,599.81" fill="#f57f36"/>
<polygon points="387.74,592.76 393.43,591.39 393.43,598.84 387.74,598.77" fill="#f98b3c"/>
<polygon points="331.06,598.16 345.73,599.55 345.73,605.54 331.06,605.54" fill="#ee6f2e"/>
<polygon points="345.73,599.55 351.57,598.45 351.57,605.54 345.73,605.54" fill="#f57f36"/>
<polygon points="351.57,598.45 359.51,598.77 359.51,605.54 351.57,605.54" fill="#f98b3c"/>
<polygon points="359.51,598.77 366.33,599.86 366.33,605.54 359.51,605.54" fill="#f98b3c"/>
<polygon points="366.33,599.86 372.67,599.57 372.67,605.54 366.33,605.54" fill="#ee6f2e"/>
<polygon points="372.67,599.57 378.98,599.81 378.98,605.54 372.67,605.54" fill="#f98b3c"/>
<polygon points="378.98,599.81 387.17,598.77 387.17,605.54 378.98,605.54" fill="#f57f36"/>
<polygon points="387.17,598.77 393.43,598.84 393.43,605.54 387.17,605.54" fill="#f98b3c"/>
</g></svg>
<svg class="a" style="left:500px;top:10px;z-index:4" width="206" height="172" viewBox="500 10 206 172">
<defs><clipPath id="pc"><circle cx="637.5" cy="60" r="118"/></clipPath><filter id="bl" x="-5%" y="-5%" width="110%" height="110%"><feGaussianBlur stdDeviation="0.55"/></filter><filter id="bl2" x="-30%" y="-30%" width="160%" height="160%"><feGaussianBlur stdDeviation="2.2"/></filter><radialGradient id="skin" cx="0.5" cy="0.42" r="0.62"><stop offset="0" stop-color="#f3c8b6"/><stop offset="0.5" stop-color="#e99a84"/><stop offset="1" stop-color="#cc6c5a"/></radialGradient><linearGradient id="hair" x1="0" y1="0" x2="0" y2="1"><stop offset="0" stop-color="#d2d1cc"/><stop offset="0.45" stop-color="#b0afa9"/><stop offset="1" stop-color="#8d8b85"/></linearGradient><linearGradient id="suit" x1="0" y1="0" x2="1" y2="0"><stop offset="0" stop-color="#24252c"/><stop offset="0.75" stop-color="#272830"/><stop offset="1" stop-color="#3a3c48"/></linearGradient></defs>
<path d="M590.0 17.9 C594.7 17.6 600.2 17.3 604.2 17.4 C608.2 17.5 610.2 17.9 614.2 18.4 C618.2 18.9 623.6 19.4 628.3 20.5 C633.0 21.6 638.2 23.2 642.5 24.7 C646.8 26.2 650.3 27.8 653.8 29.7 C657.3 31.6 660.6 33.6 663.7 36.1 C666.8 38.6 670.0 41.8 672.2 44.6 C674.5 47.4 675.8 50.0 677.2 53.1 C678.6 56.2 679.8 59.5 680.7 63.0 C681.7 66.5 682.4 70.5 682.9 74.3 C683.4 78.1 683.5 82.5 683.6 85.7 C683.7 88.9 683.7 90.3 683.5 93.5 C683.3 96.7 683.0 100.9 682.2 104.6 C681.5 108.3 680.3 112.2 679.0 115.7 C677.7 119.2 676.0 122.7 674.3 125.3 C672.6 127.9 670.4 130.0 668.7 131.6 C667.0 133.2 666.2 133.7 663.9 134.8 C661.6 135.9 659.0 136.9 655.0 138.0 C651.0 139.1 645.8 140.4 640.0 141.5 C634.2 142.6 626.0 143.7 620.0 144.6 C614.0 145.5 608.7 146.1 604.2 146.8 C599.7 147.6 597.0 148.6 592.8 149.1 C588.5 149.6 583.2 149.8 578.7 149.7 C574.2 149.6 570.1 149.3 565.9 148.7 C561.6 148.1 557.2 147.1 553.2 145.9 C549.2 144.7 545.3 143.4 541.8 141.6 C538.2 139.8 534.7 137.4 531.9 135.2 C529.1 133.0 526.9 130.8 524.8 128.2 C522.7 125.6 520.7 122.5 519.2 119.7 C517.7 116.9 516.7 114.3 515.6 111.2 C514.5 108.1 513.5 104.5 512.8 101.2 C512.1 97.9 511.7 94.7 511.4 91.3 C511.1 87.9 510.9 84.3 511.0 81.0 C511.1 77.7 511.6 74.7 512.1 71.5 C512.6 68.3 513.3 64.9 514.2 61.6 C515.1 58.3 516.4 54.8 517.7 51.7 C519.0 48.6 520.1 45.9 522.0 43.2 C523.9 40.5 526.5 37.6 529.1 35.4 C531.7 33.1 534.5 31.3 537.6 29.7 C540.7 28.1 543.5 26.9 547.5 25.5 C551.5 24.1 557.0 22.3 561.7 21.2 C566.4 20.1 571.1 19.7 575.8 19.1 C580.5 18.6 585.3 18.2 590.0 17.9Z" fill="#e2e2e2" stroke="#111" stroke-width="1.6"/>
<g clip-path="url(#pc)"><g filter="url(#bl)">
<path d="M617.5 134 L600 143 L572 158.5 L572 182 L706 182 L706 152 L690 146 L666 137 Z" fill="url(#suit)"/>
<path d="M619.5 135.5 L664.5 139 L663.5 180 L629 180 Z" fill="#f3eee6"/>
<path d="M619.5 135.5 L625 134 L640 158 L633 168 Z" fill="#fbf8f2"/><path d="M664.5 139 L660 135 L650 158 L659 166 Z" fill="#fbf8f2"/>
<path d="M642 159.5 L651.2 160.5 L649 166 L650.5 180 L640.5 180 L643.6 166 Z" fill="#bf1f3a"/>
<path d="M624.5 120 L662 120 L661.5 137 L648 159 L643 159 L624 135 Z" fill="#d4806c"/>
<ellipse cx="612.6" cy="102" rx="2.8" ry="6.5" fill="#dc7f6c"/><ellipse cx="671.6" cy="100.8" rx="2.8" ry="6.5" fill="#dc7f6c"/>
<path d="M611.5 96 C608 70 620 54.5 641 54.5 C662 54.5 674 68 671 95 L667 80 L617 80 Z" fill="url(#hair)"/>
<path d="M614.5 92 C614 74 624 65.5 641.5 65.5 C659 65.5 669.5 73 669.5 92 C670 108 667 121 659 130 C653 137 647 138.5 642 138.5 C636 138.5 630 137 624.5 130 C617 121 614.5 108 614.5 92 Z" fill="url(#skin)"/>
<g filter="url(#bl2)"><ellipse cx="625" cy="108" rx="7" ry="8" fill="#e8796a" opacity="0.55"/><ellipse cx="659.5" cy="108" rx="7" ry="8" fill="#e8796a" opacity="0.55"/><ellipse cx="642" cy="76" rx="17" ry="6.5" fill="#f3cfc2" opacity="0.7"/><path d="M622 124 Q642 146 662 124 Q655 133 642 134 Q629 133 622 124 Z" fill="#b98478" opacity="0.55"/></g>
<path d="M613.5 86 C614 70 622 60 641 58.5 C660 58 668.5 68 669.5 85 C667 74 660 67 641.5 67 C624 67 616 74 613.5 86 Z" fill="#bcbbb6"/>
<path d="M618 88.2 Q626 85.6 635.5 88.4" stroke="#6a5a50" stroke-width="1.3" fill="none"/><path d="M648 88.2 Q657 85.4 666 88" stroke="#6a5a50" stroke-width="1.3" fill="none"/>
<path d="M613.5 91.2 L670 91" stroke="#4a4644" stroke-width="0.9" fill="none"/><rect x="616" y="91" width="20.5" height="9" rx="2.5" fill="none" stroke="#6a605c" stroke-width="0.7"/><rect x="647" y="91" width="20.5" height="9" rx="2.5" fill="none" stroke="#6a605c" stroke-width="0.7"/>
<ellipse cx="626.7" cy="94.2" rx="3" ry="1.2" fill="#3c2e2a"/><ellipse cx="656" cy="94.2" rx="3" ry="1.2" fill="#3c2e2a"/>
<path d="M637 108 Q642 111.5 647.5 108" stroke="#c46a58" stroke-width="1" fill="none"/><ellipse cx="642" cy="103" rx="3.2" ry="5" fill="#f5cdbc" opacity="0.7"/>
<path d="M630.5 110 Q627.5 116 630.5 123" stroke="#c96a58" stroke-width="0.9" fill="none"/><path d="M654.5 110 Q657.5 116 654.5 123" stroke="#c96a58" stroke-width="0.9" fill="none"/>
<path d="M632.5 115.6 Q642.5 118.5 652.5 115.4 Q642.5 125.2 632.5 115.6 Z" fill="#f6efe4" stroke="#8e3c34" stroke-width="0.9"/>
</g></g></svg>
<svg class="a" style="left:0;top:613.8px;z-index:7" width="704" height="13" viewBox="0 613.8 704 13" fill="none" stroke-linecap="round" stroke-linejoin="round">
<path d="M591.5 620 H599 M594.3 617.2 L591.5 620 L594.3 622.8" stroke="#c6c6c6" stroke-width="0.9"/>
<path d="M610.6 620 H618.2 M615.4 617.2 L618.2 620 L615.4 622.8" stroke="#c6c6c6" stroke-width="0.9"/>
<path d="M632 616.6 V623.4 M633.4 620 H639.4 M636.2 617.2 L633.4 620 L636.2 622.8" stroke="#c6c6c6" stroke-width="0.9"/>
<g stroke="#6b6b6b" stroke-width="0.8"><circle cx="652.3" cy="620" r="1.5"/><circle cx="657.8" cy="617.2" r="1.5"/><circle cx="657.8" cy="622.8" r="1.5"/><path d="M653.6 619.3 L656.5 617.9 M653.6 620.7 L656.5 622.1"/></g>
<path d="M671.2 616.4 H678 V621.2 H676.2 M673 621.2 H671.2 V616.4 M674.6 618.8 V623.6 M672.9 621.9 L674.6 623.6 L676.3 621.9" stroke="#6b6b6b" stroke-width="0.8"/>
<path d="M691.4 618.3 V616.7 H693.4 M697.2 616.7 H699.2 V618.3 M699.2 621.7 V623.3 H697.2 M693.4 623.3 H691.4 V621.7 M692.8 618.4 H697.8 V621.6 H692.8 Z" stroke="#6b6b6b" stroke-width="0.8"/>
<g stroke="#8a8a8a" stroke-width="0.6" transform="translate(0.6 0)"><path d="M17 616.8 V622.8 M14 619.8 H20"/><path d="M14.6 617.2 V618.6 M13.9 617.9 H15.3 M19.4 617.2 V618.6 M18.7 617.9 H20.1 M14.6 621 V622.4 M13.9 621.7 H15.3 M19.4 621 V622.4 M18.7 621.7 H20.1 M17 615.4 V616.2 M17 623.4 V624.2 M12.6 619.8 H13.3 M20.7 619.8 H21.4"/></g>
</svg>
<div class="t" style="left:14.00px;top:3px;font-size:9px;line-height:10px;color:#333;letter-spacing:0.161px;">1. Indiana Infant Mort...</div>
<div class="t" style="left:123.30px;top:3px;font-size:9px;line-height:10px;color:#666;letter-spacing:0.176px;">Indiana Newborn Clin...</div>
<div class="t" style="left:231.60px;top:3px;font-size:9px;line-height:10px;color:#666;letter-spacing:0.160px;">Indiana Maternal Heal...</div>
<div class="t" style="left:341.20px;top:3px;font-size:9px;line-height:10px;color:#666;letter-spacing:0.245px;">Social Determinants</div>
<div class="t" style="left:140.20px;top:22px;font-size:16.5px;line-height:18px;color:#666;font-weight:bold;letter-spacing:-0.085px;">Infant Mortality in the United States</div>
<div class="t" style="left:92.30px;top:67px;font-size:10px;line-height:11px;color:#2b2b2b;font-weight:bold;letter-spacing:0.084px;">Infant Mortality Rate per 1,000 Births in the United States, 2017</div>
<div class="t" style="left:55.50px;top:51px;font-size:14px;line-height:16px;color:#2b2b2b;font-weight:bold;letter-spacing:-0.188px;">Indiana has the </div>
<div class="t" style="left:158.30px;top:51px;font-size:14px;line-height:16px;color:#ee7d10;font-weight:bold;letter-spacing:-0.180px;">highest infant mortality rate</div>
<div class="t" style="left:337.43px;top:51px;font-size:14px;line-height:16px;color:#2b2b2b;font-weight:bold;letter-spacing:-0.161px;"> in the </div>
<div class="t" style="left:381.27px;top:51px;font-size:14px;line-height:16px;color:#ee7d10;font-weight:bold;letter-spacing:-0.227px;">midwest</div>
<div class="t" style="left:47.58px;top:118px;font-size:7.8px;line-height:9px;color:#1e1e1e;-webkit-text-stroke:0.12px #1e1e1e;">5.6</div>
<div class="t" style="left:49.40px;top:127px;font-size:5.4px;line-height:6px;color:#3a3a3a;-webkit-text-stroke:0.1px #3a3a3a;">AK</div>
<div class="t" style="left:431.48px;top:118px;font-size:7.8px;line-height:9px;color:#1e1e1e;-webkit-text-stroke:0.12px #1e1e1e;">5.7</div>
<div class="t" style="left:432.85px;top:127px;font-size:5.4px;line-height:6px;color:#3a3a3a;-webkit-text-stroke:0.1px #3a3a3a;">ME</div>
<div class="t" style="left:379.13px;top:138px;font-size:7.8px;line-height:9px;color:#1e1e1e;-webkit-text-stroke:0.12px #1e1e1e;">4.8</div>
<div class="t" style="left:381.10px;top:148px;font-size:5.4px;line-height:6px;color:#3a3a3a;-webkit-text-stroke:0.1px #3a3a3a;">VT</div>
<div class="t" style="left:414.03px;top:138px;font-size:7.8px;line-height:9px;color:#1e1e1e;-webkit-text-stroke:0.12px #1e1e1e;">4.2</div>
<div class="t" style="left:415.55px;top:148px;font-size:5.4px;line-height:6px;color:#3a3a3a;-webkit-text-stroke:0.1px #3a3a3a;">NH</div>
<div class="t" style="left:82.48px;top:159px;font-size:7.8px;line-height:9px;color:#1e1e1e;-webkit-text-stroke:0.12px #1e1e1e;">3.9</div>
<div class="t" style="left:83.66px;top:168px;font-size:5.4px;line-height:6px;color:#3a3a3a;-webkit-text-stroke:0.1px #3a3a3a;">WA</div>
<div class="t" style="left:117.38px;top:159px;font-size:7.8px;line-height:9px;color:#1e1e1e;-webkit-text-stroke:0.12px #1e1e1e;">5.4</div>
<div class="t" style="left:118.90px;top:168px;font-size:5.4px;line-height:6px;color:#3a3a3a;-webkit-text-stroke:0.1px #3a3a3a;">MT</div>
<div class="t" style="left:152.28px;top:159px;font-size:7.8px;line-height:9px;color:#3e1e00;-webkit-text-stroke:0.12px #3e1e00;">4.3</div>
<div class="t" style="left:153.80px;top:168px;font-size:5.4px;line-height:6px;color:#5a2c00;-webkit-text-stroke:0.1px #5a2c00;">ND</div>
<div class="t" style="left:187.18px;top:159px;font-size:7.8px;line-height:9px;color:#3e1e00;-webkit-text-stroke:0.12px #3e1e00;">4.8</div>
<div class="t" style="left:188.40px;top:168px;font-size:5.4px;line-height:6px;color:#5a2c00;-webkit-text-stroke:0.1px #5a2c00;">MN</div>
<div class="t" style="left:222.08px;top:159px;font-size:7.8px;line-height:9px;color:#1e1e1e;-webkit-text-stroke:0.12px #1e1e1e;">6.4</div>
<div class="t" style="left:224.20px;top:168px;font-size:5.4px;line-height:6px;color:#3a3a3a;-webkit-text-stroke:0.1px #3a3a3a;">WI</div>
<div class="t" style="left:291.88px;top:159px;font-size:7.8px;line-height:9px;color:#3e1e00;-webkit-text-stroke:0.12px #3e1e00;">6.8</div>
<div class="t" style="left:294.30px;top:168px;font-size:5.4px;line-height:6px;color:#5a2c00;-webkit-text-stroke:0.1px #5a2c00;">MI</div>
<div class="t" style="left:361.68px;top:159px;font-size:7.8px;line-height:9px;color:#1e1e1e;-webkit-text-stroke:0.12px #1e1e1e;">4.6</div>
<div class="t" style="left:363.35px;top:168px;font-size:5.4px;line-height:6px;color:#3a3a3a;-webkit-text-stroke:0.1px #3a3a3a;">NY</div>
<div class="t" style="left:396.58px;top:159px;font-size:7.8px;line-height:9px;color:#1e1e1e;-webkit-text-stroke:0.12px #1e1e1e;">3.7</div>
<div class="t" style="left:397.95px;top:168px;font-size:5.4px;line-height:6px;color:#3a3a3a;-webkit-text-stroke:0.1px #3a3a3a;">MA</div>
<div class="t" style="left:431.48px;top:159px;font-size:7.8px;line-height:9px;color:#1e1e1e;-webkit-text-stroke:0.12px #1e1e1e;">6.2</div>
<div class="t" style="left:434.20px;top:168px;font-size:5.4px;line-height:6px;color:#3a3a3a;-webkit-text-stroke:0.1px #3a3a3a;">RI</div>
<div class="t" style="left:99.93px;top:179px;font-size:7.8px;line-height:9px;color:#1e1e1e;-webkit-text-stroke:0.12px #1e1e1e;">4.6</div>
<div class="t" style="left:102.65px;top:189px;font-size:5.4px;line-height:6px;color:#3a3a3a;-webkit-text-stroke:0.1px #3a3a3a;">ID</div>
<div class="t" style="left:134.83px;top:179px;font-size:7.8px;line-height:9px;color:#1e1e1e;-webkit-text-stroke:0.12px #1e1e1e;">4.6</div>
<div class="t" style="left:135.91px;top:189px;font-size:5.4px;line-height:6px;color:#3a3a3a;-webkit-text-stroke:0.1px #3a3a3a;">WY</div>
<div class="t" style="left:169.73px;top:179px;font-size:7.8px;line-height:9px;color:#1e1e1e;-webkit-text-stroke:0.12px #1e1e1e;">7.7</div>
<div class="t" style="left:171.40px;top:189px;font-size:5.4px;line-height:6px;color:#3a3a3a;-webkit-text-stroke:0.1px #3a3a3a;">SD</div>
<div class="t" style="left:204.63px;top:179px;font-size:7.8px;line-height:9px;color:#3e1e00;-webkit-text-stroke:0.12px #3e1e00;">5.3</div>
<div class="t" style="left:207.50px;top:189px;font-size:5.4px;line-height:6px;color:#5a2c00;-webkit-text-stroke:0.1px #5a2c00;">IA</div>
<div class="t" style="left:239.53px;top:179px;font-size:7.8px;line-height:9px;color:#3e1e00;-webkit-text-stroke:0.12px #3e1e00;">6.1</div>
<div class="t" style="left:242.70px;top:189px;font-size:5.4px;line-height:6px;color:#5a2c00;-webkit-text-stroke:0.1px #5a2c00;">IL</div>
<div class="t" style="left:274.43px;top:179px;font-size:7.8px;line-height:9px;color:#3e1e00;-webkit-text-stroke:0.12px #3e1e00;">7.3</div>
<div class="t" style="left:277.15px;top:189px;font-size:5.4px;line-height:6px;color:#5a2c00;-webkit-text-stroke:0.1px #5a2c00;">IN</div>
<div class="t" style="left:309.33px;top:179px;font-size:7.8px;line-height:9px;color:#3e1e00;-webkit-text-stroke:0.12px #3e1e00;">7.2</div>
<div class="t" style="left:310.70px;top:189px;font-size:5.4px;line-height:6px;color:#5a2c00;-webkit-text-stroke:0.1px #5a2c00;">OH</div>
<div class="t" style="left:344.23px;top:179px;font-size:7.8px;line-height:9px;color:#1e1e1e;-webkit-text-stroke:0.12px #1e1e1e;">6.1</div>
<div class="t" style="left:346.25px;top:189px;font-size:5.4px;line-height:6px;color:#3a3a3a;-webkit-text-stroke:0.1px #3a3a3a;">PA</div>
<div class="t" style="left:379.13px;top:179px;font-size:7.8px;line-height:9px;color:#1e1e1e;-webkit-text-stroke:0.12px #1e1e1e;">4.5</div>
<div class="t" style="left:381.25px;top:189px;font-size:5.4px;line-height:6px;color:#3a3a3a;-webkit-text-stroke:0.1px #3a3a3a;">NJ</div>
<div class="t" style="left:414.03px;top:179px;font-size:7.8px;line-height:9px;color:#1e1e1e;-webkit-text-stroke:0.12px #1e1e1e;">4.5</div>
<div class="t" style="left:415.86px;top:189px;font-size:5.4px;line-height:6px;color:#3a3a3a;-webkit-text-stroke:0.1px #3a3a3a;">CT</div>
<div class="t" style="left:82.48px;top:200px;font-size:7.8px;line-height:9px;color:#1e1e1e;-webkit-text-stroke:0.12px #1e1e1e;">5.4</div>
<div class="t" style="left:83.85px;top:209px;font-size:5.4px;line-height:6px;color:#3a3a3a;-webkit-text-stroke:0.1px #3a3a3a;">OR</div>
<div class="t" style="left:117.38px;top:200px;font-size:7.8px;line-height:9px;color:#1e1e1e;-webkit-text-stroke:0.12px #1e1e1e;">5.8</div>
<div class="t" style="left:119.05px;top:209px;font-size:5.4px;line-height:6px;color:#3a3a3a;-webkit-text-stroke:0.1px #3a3a3a;">NV</div>
<div class="t" style="left:152.28px;top:200px;font-size:7.8px;line-height:9px;color:#1e1e1e;-webkit-text-stroke:0.12px #1e1e1e;">4.5</div>
<div class="t" style="left:153.65px;top:209px;font-size:5.4px;line-height:6px;color:#3a3a3a;-webkit-text-stroke:0.1px #3a3a3a;">CO</div>
<div class="t" style="left:187.18px;top:200px;font-size:7.8px;line-height:9px;color:#3e1e00;-webkit-text-stroke:0.12px #3e1e00;">5.6</div>
<div class="t" style="left:188.85px;top:209px;font-size:5.4px;line-height:6px;color:#5a2c00;-webkit-text-stroke:0.1px #5a2c00;">NE</div>
<div class="t" style="left:222.08px;top:200px;font-size:7.8px;line-height:9px;color:#3e1e00;-webkit-text-stroke:0.12px #3e1e00;">6.2</div>
<div class="t" style="left:223.16px;top:209px;font-size:5.4px;line-height:6px;color:#5a2c00;-webkit-text-stroke:0.1px #5a2c00;">MO</div>
<div class="t" style="left:256.98px;top:200px;font-size:7.8px;line-height:9px;color:#1e1e1e;-webkit-text-stroke:0.12px #1e1e1e;">6.5</div>
<div class="t" style="left:258.80px;top:209px;font-size:5.4px;line-height:6px;color:#3a3a3a;-webkit-text-stroke:0.1px #3a3a3a;">KY</div>
<div class="t" style="left:291.88px;top:200px;font-size:7.8px;line-height:9px;color:#1e1e1e;-webkit-text-stroke:0.12px #1e1e1e;">7.0</div>
<div class="t" style="left:292.96px;top:209px;font-size:5.4px;line-height:6px;color:#3a3a3a;-webkit-text-stroke:0.1px #3a3a3a;">WV</div>
<div class="t" style="left:326.78px;top:200px;font-size:7.8px;line-height:9px;color:#1e1e1e;-webkit-text-stroke:0.12px #1e1e1e;">6.4</div>
<div class="t" style="left:328.00px;top:209px;font-size:5.4px;line-height:6px;color:#3a3a3a;-webkit-text-stroke:0.1px #3a3a3a;">MD</div>
<div class="t" style="left:361.68px;top:200px;font-size:7.8px;line-height:9px;color:#1e1e1e;-webkit-text-stroke:0.12px #1e1e1e;">6.6</div>
<div class="t" style="left:363.35px;top:209px;font-size:5.4px;line-height:6px;color:#3a3a3a;-webkit-text-stroke:0.1px #3a3a3a;">DE</div>
<div class="t" style="left:99.93px;top:220px;font-size:7.8px;line-height:9px;color:#1e1e1e;-webkit-text-stroke:0.12px #1e1e1e;">4.2</div>
<div class="t" style="left:101.60px;top:230px;font-size:5.4px;line-height:6px;color:#3a3a3a;-webkit-text-stroke:0.1px #3a3a3a;">CA</div>
<div class="t" style="left:134.83px;top:220px;font-size:7.8px;line-height:9px;color:#1e1e1e;-webkit-text-stroke:0.12px #1e1e1e;">5.7</div>
<div class="t" style="left:136.80px;top:230px;font-size:5.4px;line-height:6px;color:#3a3a3a;-webkit-text-stroke:0.1px #3a3a3a;">AZ</div>
<div class="t" style="left:169.73px;top:220px;font-size:7.8px;line-height:9px;color:#1e1e1e;-webkit-text-stroke:0.12px #1e1e1e;">5.9</div>
<div class="t" style="left:171.56px;top:230px;font-size:5.4px;line-height:6px;color:#3a3a3a;-webkit-text-stroke:0.1px #3a3a3a;">UT</div>
<div class="t" style="left:204.63px;top:220px;font-size:7.8px;line-height:9px;color:#3e1e00;-webkit-text-stroke:0.12px #3e1e00;">6.1</div>
<div class="t" style="left:206.45px;top:230px;font-size:5.4px;line-height:6px;color:#5a2c00;-webkit-text-stroke:0.1px #5a2c00;">KS</div>
<div class="t" style="left:239.53px;top:220px;font-size:7.8px;line-height:9px;color:#1e1e1e;-webkit-text-stroke:0.12px #1e1e1e;">8.2</div>
<div class="t" style="left:241.20px;top:230px;font-size:5.4px;line-height:6px;color:#3a3a3a;-webkit-text-stroke:0.1px #3a3a3a;">AR</div>
<div class="t" style="left:274.43px;top:220px;font-size:7.8px;line-height:9px;color:#1e1e1e;-webkit-text-stroke:0.12px #1e1e1e;">7.4</div>
<div class="t" style="left:276.26px;top:230px;font-size:5.4px;line-height:6px;color:#3a3a3a;-webkit-text-stroke:0.1px #3a3a3a;">TN</div>
<div class="t" style="left:309.33px;top:220px;font-size:7.8px;line-height:9px;color:#1e1e1e;-webkit-text-stroke:0.12px #1e1e1e;">5.9</div>
<div class="t" style="left:311.35px;top:230px;font-size:5.4px;line-height:6px;color:#3a3a3a;-webkit-text-stroke:0.1px #3a3a3a;">VA</div>
<div class="t" style="left:344.23px;top:220px;font-size:7.8px;line-height:9px;color:#1e1e1e;-webkit-text-stroke:0.12px #1e1e1e;">7.1</div>
<div class="t" style="left:345.75px;top:230px;font-size:5.4px;line-height:6px;color:#3a3a3a;-webkit-text-stroke:0.1px #3a3a3a;">NC</div>
<div class="t" style="left:152.28px;top:241px;font-size:7.8px;line-height:9px;color:#1e1e1e;-webkit-text-stroke:0.12px #1e1e1e;">5.9</div>
<div class="t" style="left:153.50px;top:250px;font-size:5.4px;line-height:6px;color:#3a3a3a;-webkit-text-stroke:0.1px #3a3a3a;">NM</div>
<div class="t" style="left:187.18px;top:241px;font-size:7.8px;line-height:9px;color:#1e1e1e;-webkit-text-stroke:0.12px #1e1e1e;">7.7</div>
<div class="t" style="left:188.70px;top:250px;font-size:5.4px;line-height:6px;color:#3a3a3a;-webkit-text-stroke:0.1px #3a3a3a;">OK</div>
<div class="t" style="left:222.08px;top:241px;font-size:7.8px;line-height:9px;color:#1e1e1e;-webkit-text-stroke:0.12px #1e1e1e;">7.1</div>
<div class="t" style="left:224.20px;top:250px;font-size:5.4px;line-height:6px;color:#3a3a3a;-webkit-text-stroke:0.1px #3a3a3a;">LA</div>
<div class="t" style="left:256.98px;top:241px;font-size:7.8px;line-height:9px;color:#1e1e1e;-webkit-text-stroke:0.12px #1e1e1e;">8.6</div>
<div class="t" style="left:258.35px;top:250px;font-size:5.4px;line-height:6px;color:#3a3a3a;-webkit-text-stroke:0.1px #3a3a3a;">MS</div>
<div class="t" style="left:291.88px;top:241px;font-size:7.8px;line-height:9px;color:#1e1e1e;-webkit-text-stroke:0.12px #1e1e1e;">7.4</div>
<div class="t" style="left:294.00px;top:250px;font-size:5.4px;line-height:6px;color:#3a3a3a;-webkit-text-stroke:0.1px #3a3a3a;">AL</div>
<div class="t" style="left:326.78px;top:241px;font-size:7.8px;line-height:9px;color:#1e1e1e;-webkit-text-stroke:0.12px #1e1e1e;">6.5</div>
<div class="t" style="left:328.45px;top:250px;font-size:5.4px;line-height:6px;color:#3a3a3a;-webkit-text-stroke:0.1px #3a3a3a;">SC</div>
<div class="t" style="left:169.73px;top:261px;font-size:7.8px;line-height:9px;color:#1e1e1e;-webkit-text-stroke:0.12px #1e1e1e;">5.9</div>
<div class="t" style="left:171.70px;top:271px;font-size:5.4px;line-height:6px;color:#3a3a3a;-webkit-text-stroke:0.1px #3a3a3a;">TX</div>
<div class="t" style="left:309.33px;top:261px;font-size:7.8px;line-height:9px;color:#1e1e1e;-webkit-text-stroke:0.12px #1e1e1e;">7.2</div>
<div class="t" style="left:310.85px;top:271px;font-size:5.4px;line-height:6px;color:#3a3a3a;-webkit-text-stroke:0.1px #3a3a3a;">GA</div>
<div class="t" style="left:47.58px;top:282px;font-size:7.8px;line-height:9px;color:#1e1e1e;-webkit-text-stroke:0.12px #1e1e1e;">5.3</div>
<div class="t" style="left:50.30px;top:291px;font-size:5.4px;line-height:6px;color:#3a3a3a;-webkit-text-stroke:0.1px #3a3a3a;">HI</div>
<div class="t" style="left:326.78px;top:282px;font-size:7.8px;line-height:9px;color:#1e1e1e;-webkit-text-stroke:0.12px #1e1e1e;">6.1</div>
<div class="t" style="left:329.05px;top:291px;font-size:5.4px;line-height:6px;color:#3a3a3a;-webkit-text-stroke:0.1px #3a3a3a;">FL</div>
<div class="t" style="left:523.50px;top:183px;font-size:14px;line-height:16px;color:#e8761c;font-weight:bold;letter-spacing:0.053px;">Infant Mortality Rate</div>
<div class="t" style="left:483.70px;top:211px;font-size:9.3px;line-height:10px;color:#2e2e2e;letter-spacing:0.135px;">The health of mothers and infants impacts our</div>
<div class="t" style="left:483.70px;top:222px;font-size:9.3px;line-height:10px;color:#2e2e2e;letter-spacing:0.199px;">state. The infant mortality rate is the death of an</div>
<div class="t" style="left:483.70px;top:233px;font-size:9.3px;line-height:10px;color:#2e2e2e;letter-spacing:0.229px;">infant before their first birthday. This is an</div>
<div class="t" style="left:483.70px;top:244px;font-size:9.3px;line-height:10px;color:#2e2e2e;letter-spacing:0.267px;">important indicator of maternal, infant, and</div>
<div class="t" style="left:483.70px;top:255px;font-size:9.3px;line-height:10px;color:#2e2e2e;letter-spacing:0.201px;">overall population health.</div>
<div class="t" style="left:483.70px;top:276px;font-size:10px;line-height:11px;color:#e8761c;font-weight:bold;letter-spacing:-0.043px;">Leading Causes of Infant Mortality in Indiana,</div>
<div class="t" style="left:579.88px;top:289px;font-size:10px;line-height:11px;color:#e8761c;font-weight:bold;">2017</div>
<div class="t" style="left:483.70px;top:312px;font-size:9.3px;line-height:10px;color:#2e2e2e;letter-spacing:-0.015px;">1. SIDS (Sudden Infant Death Syndrome)</div>
<div class="t" style="left:483.70px;top:323px;font-size:9.3px;line-height:10px;color:#2e2e2e;letter-spacing:0.187px;">2. Accidental suffocation, strangulation in bed</div>
<div class="t" style="left:265.45px;top:337px;font-size:15px;line-height:17px;color:#666;font-weight:bold;letter-spacing:-0.080px;">Infant Mortality in Indiana</div>
<div class="t" style="left:266.00px;top:475px;font-size:15px;line-height:17px;color:#666;font-weight:bold;letter-spacing:-0.347px;">Birth Outcomes in Indiana</div>
<div class="t" style="left:28.80px;top:362px;font-size:9px;line-height:10px;color:#555;font-weight:bold;letter-spacing:0.108px;">Infant Mortality per 1,000 births, IN: 2012 - 2017</div>
<div class="t" style="left:30.23px;top:410px;font-size:7px;line-height:7px;color:#666;">6.7</div>
<div class="t" style="left:28.35px;top:452px;font-size:6.4px;line-height:7px;color:#7e828c;">Total</div>
<div class="t" style="left:79.03px;top:416px;font-size:7px;line-height:7px;color:#666;">5.5</div>
<div class="t" style="left:68.80px;top:452px;font-size:6.4px;line-height:7px;color:#7e828c;">Caucasian</div>
<div class="t" style="left:125.29px;top:384px;font-size:7px;line-height:7px;color:#fff;font-weight:bold;">14.5</div>
<div class="t" style="left:122.15px;top:452px;font-size:6.4px;line-height:7px;color:#7e828c;">African</div>
<div class="t" style="left:175.43px;top:404px;font-size:7px;line-height:7px;color:#666;">8.1</div>
<div class="t" style="left:168.04px;top:452px;font-size:6.4px;line-height:7px;color:#7e828c;">Hispanic</div>
<div class="t" style="left:224.13px;top:408px;font-size:7px;line-height:7px;color:#666;">7.3</div>
<div class="t" style="left:209.46px;top:452px;font-size:6.4px;line-height:7px;color:#7e828c;">All Other Kids</div>
<div class="t" style="left:118.60px;top:461px;font-size:6.4px;line-height:7px;color:#7e828c;">American</div>
<div class="t" style="left:13.90px;top:376px;font-size:9.6px;line-height:11px;color:#333;letter-spacing:-0.196px;">Select a Year</div>
<div class="t" style="left:16.30px;top:385px;font-size:9.5px;line-height:11px;color:#444;">2012</div>
<div class="t" style="left:512.50px;top:370px;font-size:10.75px;line-height:12px;color:#e8761c;font-weight:bold;">Disparities in Infant Mortality</div>
<div class="t" style="left:473.70px;top:395px;font-size:9.3px;line-height:10px;color:#a2382a;letter-spacing:0.139px;">African American</div>
<div class="t" style="left:546.20px;top:395px;font-size:9.3px;line-height:10px;color:#111;letter-spacing:0.145px;-webkit-text-stroke:0.15px #111;"> infants are more than twice as</div>
<div class="t" style="left:473.70px;top:407px;font-size:9.3px;line-height:10px;color:#111;letter-spacing:0.223px;-webkit-text-stroke:0.15px #111;">likely to die before their first birthday, compared to</div>
<div class="t" style="left:473.70px;top:419px;font-size:9.3px;line-height:10px;color:#111;letter-spacing:-0.118px;-webkit-text-stroke:0.15px #111;">Caucasian babies.</div>
<div class="t" style="left:473.70px;top:441px;font-size:9.3px;line-height:10px;color:#111;letter-spacing:0.151px;-webkit-text-stroke:0.15px #111;">This increased mortality rate is driven by higher</div>
<div class="t" style="left:473.70px;top:453px;font-size:9.3px;line-height:10px;color:#111;letter-spacing:0.148px;-webkit-text-stroke:0.15px #111;">rates of preterm-related causes.</div>
<div class="t" style="left:80.70px;top:498px;font-size:9px;line-height:10px;color:#555;font-weight:bold;letter-spacing:0.102px;">Preterm Births, IN: 2012</div>
<div class="t" style="left:43.62px;top:533px;font-size:7px;line-height:7px;color:#666;">9.6%</div>
<div class="t" style="left:44.85px;top:590px;font-size:6.4px;line-height:7px;color:#7e828c;">Total</div>
<div class="t" style="left:125.72px;top:535px;font-size:7px;line-height:7px;color:#666;">9.1%</div>
<div class="t" style="left:118.60px;top:590px;font-size:6.4px;line-height:7px;color:#7e828c;">Caucasian</div>
<div class="t" style="left:204.87px;top:514px;font-size:7px;line-height:7px;color:#666;">13.3%</div>
<div class="t" style="left:190.64px;top:590px;font-size:6.4px;line-height:7px;color:#7e828c;">African American</div>
<div class="t" style="left:11.80px;top:493px;font-size:9.6px;line-height:11px;color:#333;letter-spacing:-0.196px;">Select a Year</div>
<div class="t" style="left:14.20px;top:502px;font-size:9.5px;line-height:11px;color:#444;">2012</div>
<div class="t" style="left:513.80px;top:508px;font-size:10.75px;line-height:12px;color:#e8761c;font-weight:bold;letter-spacing:-0.198px;">Disparities in Birth Outcomes</div>
<div class="t" style="left:473.70px;top:531px;font-size:9.3px;line-height:10px;color:#111;letter-spacing:0.111px;-webkit-text-stroke:0.15px #111;">Preterm births occur when babies are born too early.</div>
<div class="t" style="left:473.70px;top:541px;font-size:9.3px;line-height:10px;color:#111;letter-spacing:0.099px;-webkit-text-stroke:0.15px #111;">Babies born preterm have higher rates of death and</div>
<div class="t" style="left:473.70px;top:551px;font-size:9.3px;line-height:10px;color:#111;letter-spacing:0.255px;-webkit-text-stroke:0.15px #111;">disability. Maternal smoking, low birthweight, and</div>
<div class="t" style="left:473.70px;top:561px;font-size:9.3px;line-height:10px;color:#111;letter-spacing:0.220px;-webkit-text-stroke:0.15px #111;">preterm births are risk factors for negative health</div>
<div class="t" style="left:473.70px;top:571px;font-size:9.3px;line-height:10px;color:#111;letter-spacing:0.057px;-webkit-text-stroke:0.15px #111;">outcomes.</div>
<div class="t" style="left:473.70px;top:591px;font-size:9.3px;line-height:10px;color:#111;letter-spacing:0.058px;-webkit-text-stroke:0.15px #111;">Pregnant women can take steps to help reduce</div>
<div class="t" style="left:473.70px;top:601px;font-size:9.3px;line-height:10px;color:#111;letter-spacing:0.147px;-webkit-text-stroke:0.15px #111;">negative birth outcomes, such as quitting smoking</div>
<div class="t" style="left:269.60px;top:362px;font-size:9px;line-height:10px;color:#4c4c4c;font-weight:bold;letter-spacing:0.087px;">Underlying Causes of Infant Mortality, 2017</div>
<div class="t" style="left:390.60px;top:447px;font-size:9.2px;line-height:10px;color:#444;letter-spacing:-0.038px;">Child Deaths per ...</div>
<div class="t" style="left:391.80px;top:456px;font-size:9px;line-height:10px;color:#888;">0.1</div>
<div class="t" style="left:460.60px;top:456px;font-size:9px;line-height:10px;color:#888;width:11.4px;overflow:hidden;">3.2</div>
<div class="t" style="left:318.90px;top:498px;font-size:9.3px;line-height:10px;color:#555;font-weight:bold;letter-spacing:-0.022px;">Preterm Births, 2017</div>
<div class="t" style="left:543.75px;top:33px;font-size:9.8px;line-height:11px;color:#1a1a1a;font-weight:bold;letter-spacing:0.183px;z-index:5;">"I challenge our social</div>
<div class="t" style="left:533.55px;top:44px;font-size:9.8px;line-height:11px;color:#1a1a1a;font-weight:bold;letter-spacing:0.205px;z-index:5;">service agencies to</div>
<div class="t" style="left:527.75px;top:55px;font-size:9.8px;line-height:11px;color:#1a1a1a;font-weight:bold;letter-spacing:0.293px;z-index:5;">become the best</div>
<div class="t" style="left:537.40px;top:66px;font-size:9.8px;line-height:11px;color:#1a1a1a;font-weight:bold;letter-spacing:0.407px;z-index:5;">state in the</div>
<div class="t" style="left:535.60px;top:77px;font-size:9.8px;line-height:11px;color:#1a1a1a;font-weight:bold;letter-spacing:0.306px;z-index:5;">Midwest for</div>
<div class="t" style="left:525.65px;top:88px;font-size:9.8px;line-height:11px;color:#1a1a1a;font-weight:bold;letter-spacing:0.408px;z-index:5;">infant mortality</div>
<div class="t" style="left:541.70px;top:98px;font-size:9.8px;line-height:11px;color:#1a1a1a;font-weight:bold;letter-spacing:0.275px;z-index:5;">by 2024."</div>
<div class="t" style="left:534.20px;top:121px;font-size:9.8px;line-height:11px;color:#1a1a1a;font-weight:bold;letter-spacing:0.109px;z-index:5;">- Gov. Holcomb</div>
<div class="t" style="left:24.60px;top:613px;font-size:10.5px;line-height:12px;color:#5c5c5c;z-index:8;">+</div>
<div class="t" style="left:33.10px;top:615px;font-size:7.4px;line-height:9px;color:#707070;letter-spacing:0.314px;z-index:8;">a b | e a u</div>
</body></html>
